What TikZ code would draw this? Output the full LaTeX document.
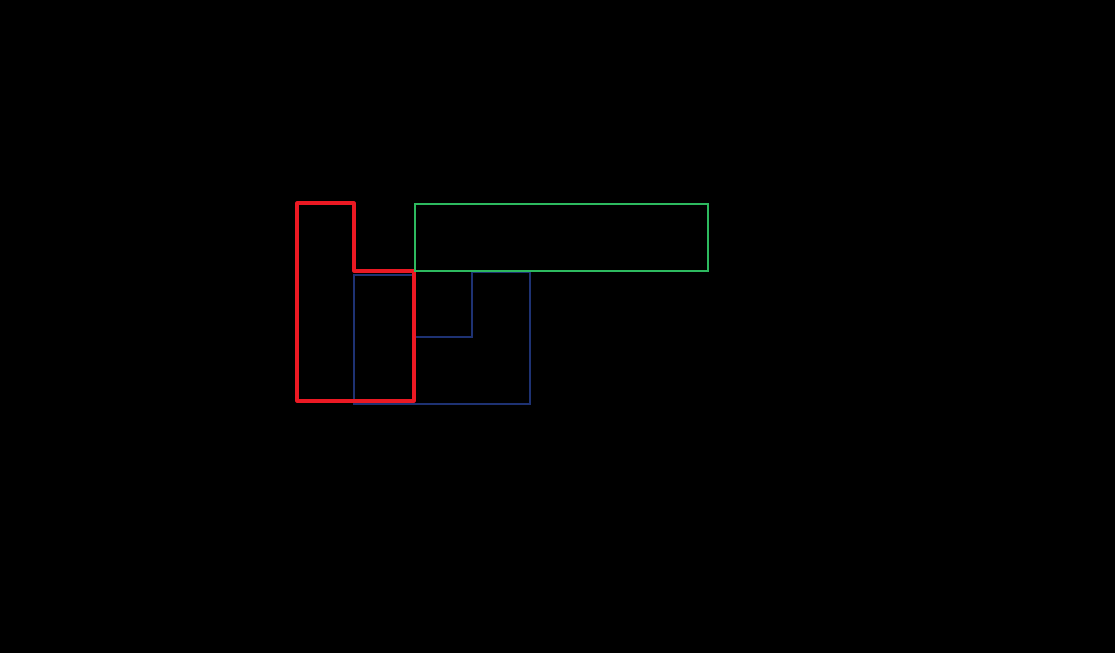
\documentclass[tikz,border=0pt]{standalone}
\usepackage{tikz}
\definecolor{lred}{RGB}{235,25,35}
\definecolor{lgreen}{RGB}{45,185,95}
\definecolor{lblue}{RGB}{30,50,115}
\begin{document}
\begin{tikzpicture}[
    x=0.01cm, y=-0.01cm,
    redpart/.style={draw=lred, line width=0.9pt, line join=round},
    greenpart/.style={draw=lgreen, line width=0.7pt},
    bluepart/.style={draw=lblue, line width=0.6pt}
]
% background
\fill[black] (0,0) rectangle (1115,653);
\useasboundingbox (0,0) rectangle (1115,653);

% blue block with notch
\draw[bluepart] (354,275) -- (414,275) -- (414,337) -- (472,337) -- (472,272)
    -- (530,272) -- (530,404) -- (354,404) -- cycle;

% red L block
\draw[redpart] (297,203) -- (354,203) -- (354,271) -- (414,271) -- (414,401)
    -- (297,401) -- cycle;

% green bar
\draw[greenpart] (415,204) rectangle (708,271);
\end{tikzpicture}
\end{document}
